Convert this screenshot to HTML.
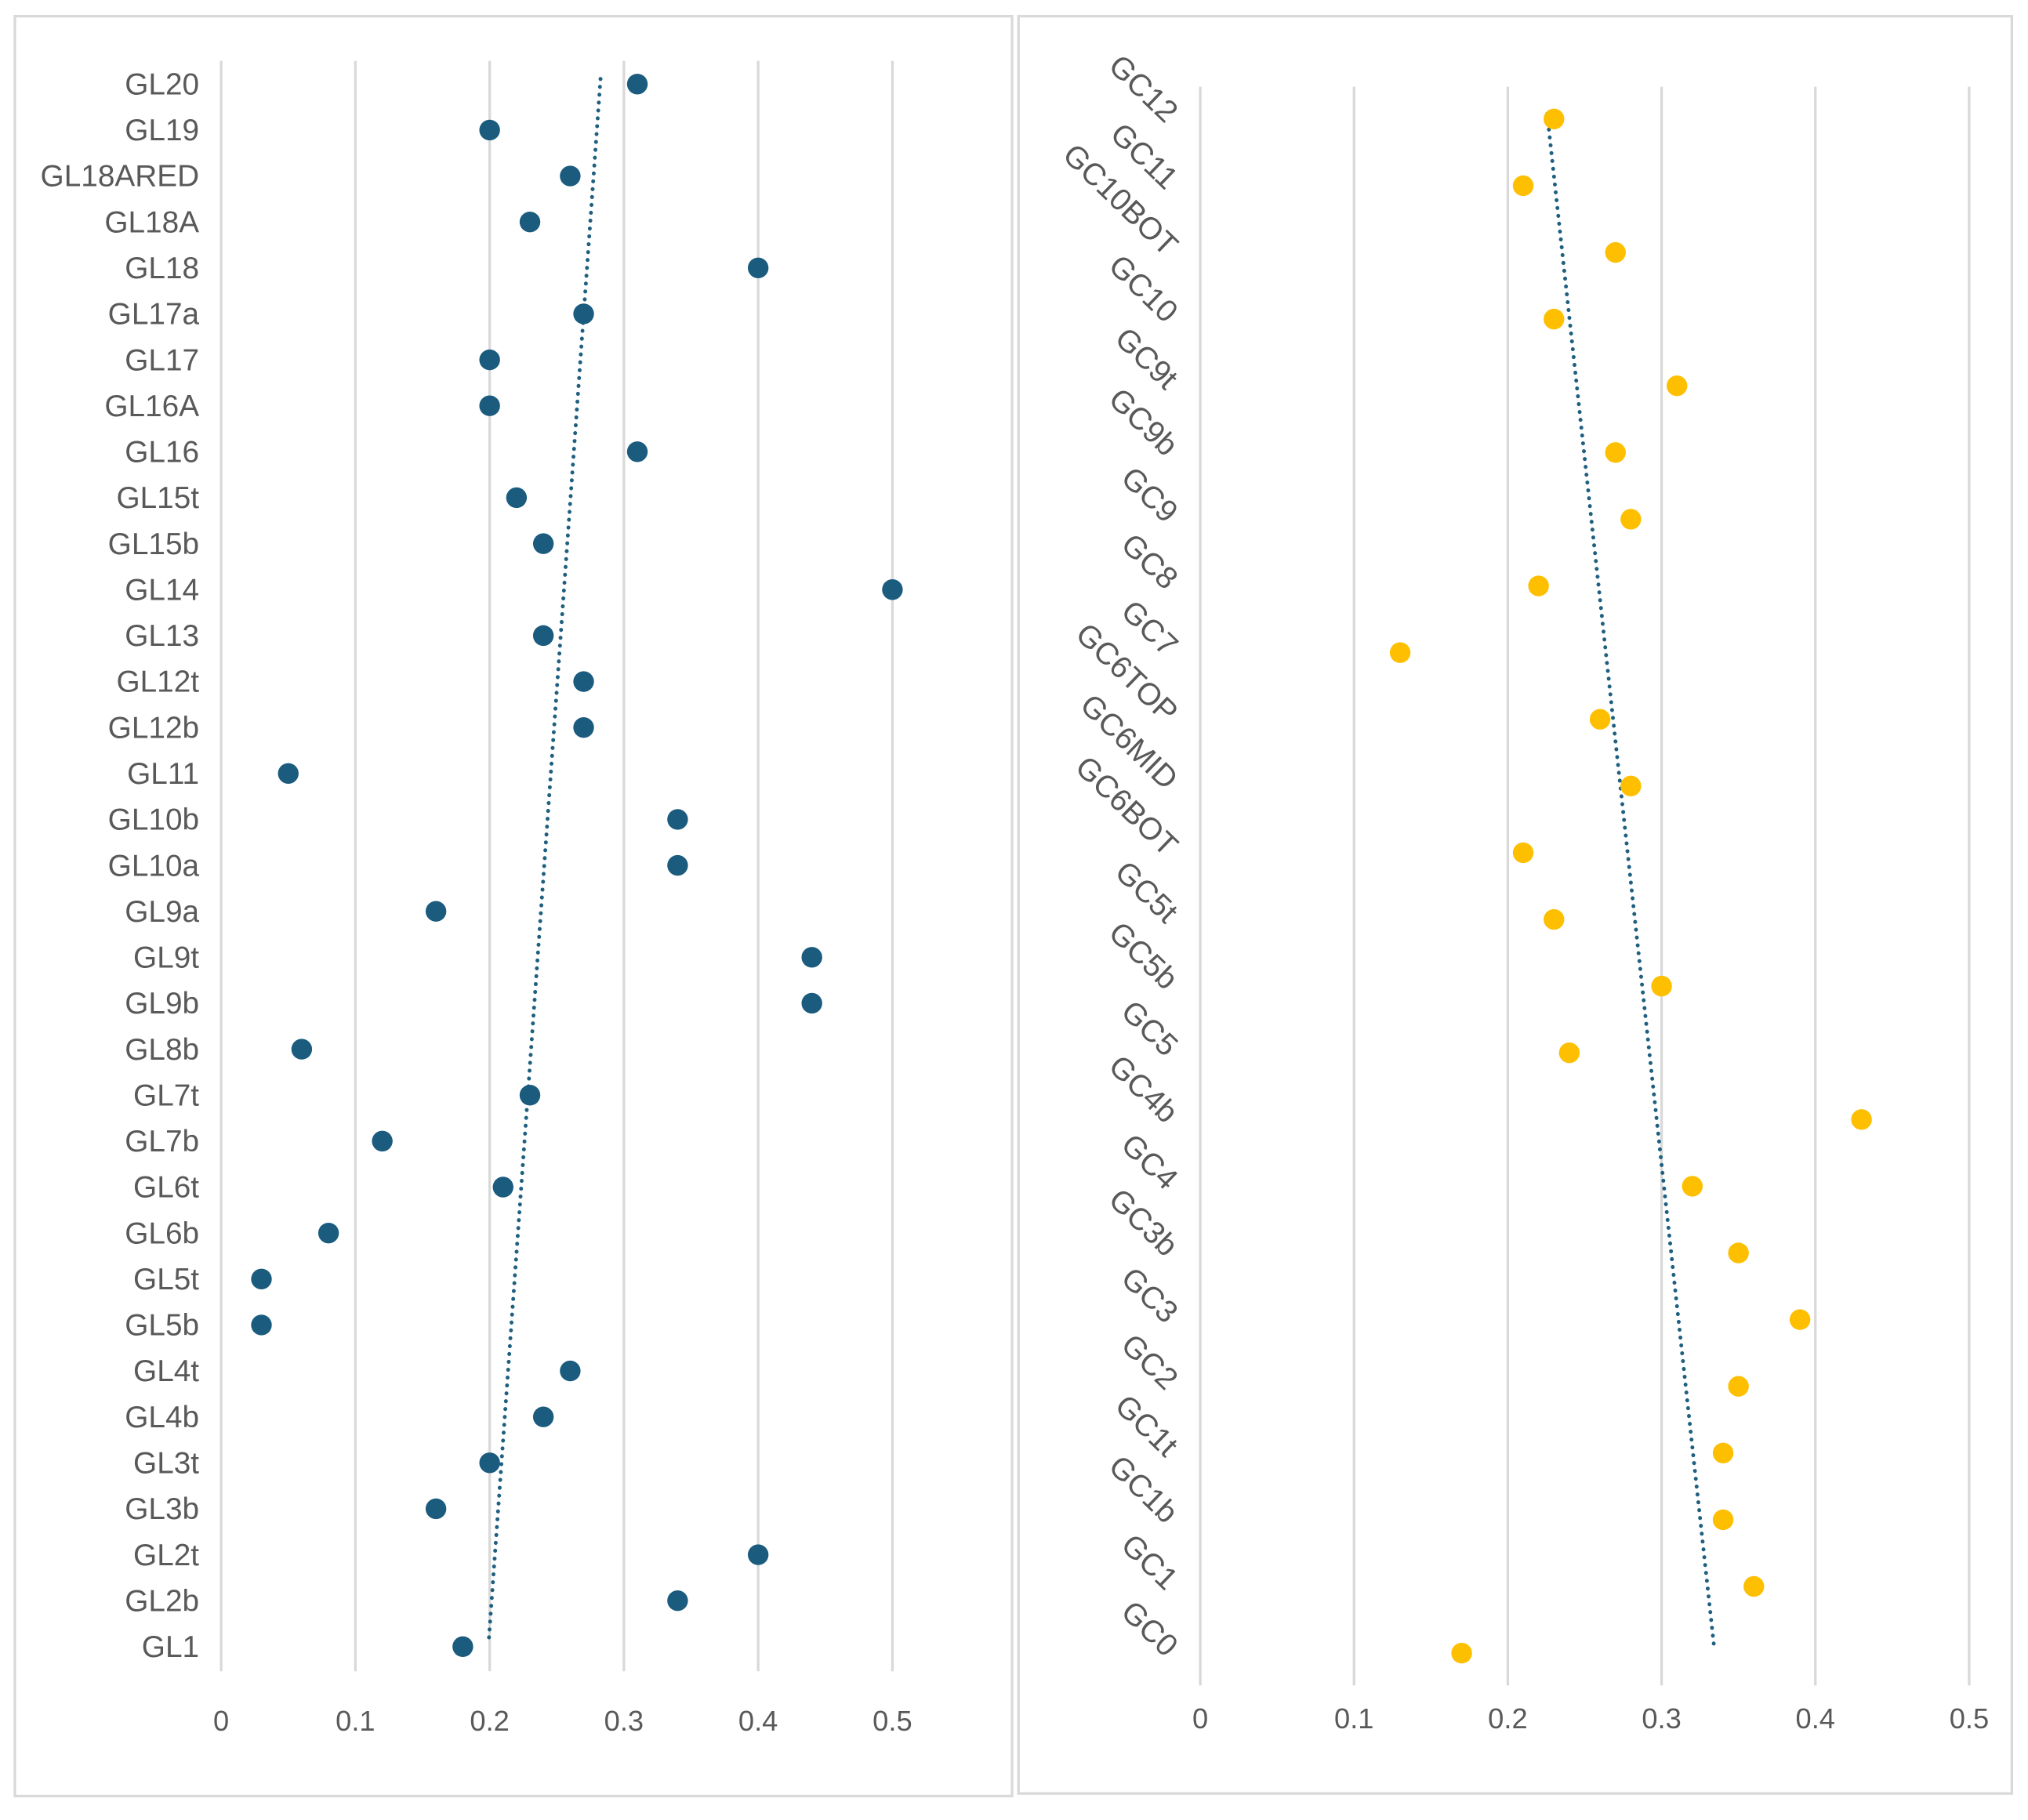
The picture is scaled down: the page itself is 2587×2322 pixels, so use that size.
<!DOCTYPE html>
<html><head><meta charset="utf-8"><style>
html,body{margin:0;padding:0;background:#fff;}
svg{display:block;}
text{font-family:"Liberation Sans",sans-serif;fill:#595959;}
</style></head><body>
<svg id="svg" width="2587" height="2322" viewBox="0 0 1568 1407" preserveAspectRatio="none" xmlns="http://www.w3.org/2000/svg">
<rect x="11.5" y="12.5" width="771" height="1376" fill="#fff" stroke="#d9d9d9" stroke-width="2"/>
<rect x="787.5" y="12.5" width="768" height="1374" fill="#fff" stroke="#d9d9d9" stroke-width="2"/>
<g id="left"></g>
<g id="right"></g>
</svg>
<script>
const glCategories = ["GL20","GL19","GL18ARED","GL18A","GL18","GL17a","GL17","GL16A","GL16","GL15t","GL15b","GL14","GL13","GL12t","GL12b","GL11","GL10b","GL10a","GL9a","GL9t","GL9b","GL8b","GL7t","GL7b","GL6t","GL6b","GL5t","GL5b","GL4t","GL4b","GL3t","GL3b","GL2t","GL2b","GL1"];
const glValues = [0.31,0.20,0.26,0.23,0.40,0.27,0.20,0.20,0.31,0.22,0.24,0.50,0.24,0.27,0.27,0.05,0.34,0.34,0.16,0.44,0.44,0.06,0.23,0.12,0.21,0.08,0.03,0.03,0.26,0.24,0.20,0.16,0.40,0.34,0.18];
const gcCategories = ["GC12","GC11","GC10BOT","GC10","GC9t","GC9b","GC9","GC8","GC7","GC6TOP","GC6MID","GC6BOT","GC5t","GC5b","GC5","GC4b","GC4","GC3b","GC3","GC2","GC1t","GC1b","GC1","GC0"];
const gcValues = [0.23,0.21,0.27,0.23,0.31,0.27,0.28,0.22,0.13,0.26,0.28,0.21,0.23,0.30,0.24,0.43,0.32,0.35,0.39,0.35,0.34,0.34,0.36,0.17];
const xTicks = [0,0.1,0.2,0.3,0.4,0.5];
const xTickLabels = ["0","0.1","0.2","0.3","0.4","0.5"];

const NS="http://www.w3.org/2000/svg";
function mk(parent,tag,attrs){const e=document.createElementNS(NS,tag);for(const k in attrs)e.setAttribute(k,attrs[k]);parent.appendChild(e);return e;}

function draw(g,cfg,cats,vals,prefix){
  const xS=v=>cfg.x0+v*cfg.kx;
  const yS=i=>cfg.yFirst+i*(cfg.yLast-cfg.yFirst)/(cats.length-1);
  xTicks.forEach((t,i)=>{
    const l=mk(g,'line',{x1:xS(t),x2:xS(t),y1:cfg.gTop,y2:cfg.gBot,stroke:'#d9d9d9','stroke-width':2});
    
    
    const tx=mk(g,'text',{x:xS(t),y:cfg.tickY,'text-anchor':'middle','font-size':22});
    tx.textContent=xTickLabels[i];
    
    
  });
  cats.forEach((c,i)=>{
    let tx;
    if(cfg.rot){
      tx=mk(g,'text',{x:cfg.labX,y:yS(i)+4,'text-anchor':'end','font-size':24,transform:`rotate(44 ${cfg.labX} ${yS(i)+4})`});
    } else {
      tx=mk(g,'text',{x:cfg.labX,y:yS(i)+8,'text-anchor':'end','font-size':23.5});
    }
    tx.textContent=c;
    
    
  });
  const n=vals.length;let sx=0,sy=0,sxy=0,sxx=0;
  vals.forEach((v,i)=>{sx+=i;sy+=v;sxy+=i*v;sxx+=i*i;});
  const b=(n*sxy-sx*sy)/(n*sxx-sx*sx),a=(sy-b*sx)/n;
  const t=mk(g,'line',{x1:xS(a),y1:yS(0)-4,x2:xS(a+b*(n-1)),y2:yS(n-1)-2,stroke:'#1f5f80','stroke-width':3,'stroke-dasharray':'0.1 6','stroke-linecap':'round'});
  
  
  vals.forEach((v,i)=>{
    const c=mk(g,'circle',{cx:xS(v),cy:yS(i),r:8,fill:cfg.color});
    
    
  });
}
draw(document.getElementById('left'),{x0:171,kx:1038,yFirst:65,yLast:1273,gTop:47,gBot:1292,tickY:1338,labX:154,rot:false,color:'#1a5b7e'},glCategories,glValues,'gl');
draw(document.getElementById('right'),{x0:928,kx:1189,yFirst:92,yLast:1278,gTop:67,gBot:1303,tickY:1336,labX:901,rot:true,color:'#fdbf00'},gcCategories,gcValues,'gc');
</script>
</body></html>
